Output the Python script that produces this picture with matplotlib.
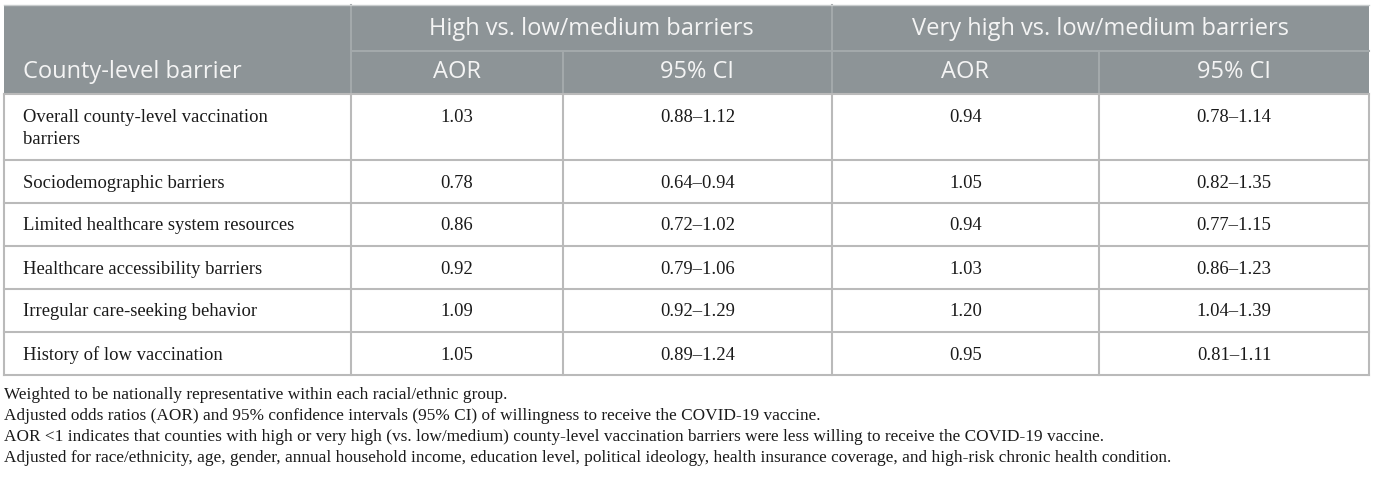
import matplotlib
matplotlib.use("Agg")
import matplotlib.pyplot as plt
from matplotlib.patches import Rectangle

# table content
groups = ["High vs. low/medium barriers", "Very high vs. low/medium barriers"]
sub_heads = ["AOR", "95% CI", "AOR", "95% CI"]
row_head = "County-level barrier"
barriers = ["Overall county-level vaccination\nbarriers",
            "Sociodemographic barriers",
            "Limited healthcare system resources",
            "Healthcare accessibility barriers",
            "Irregular care-seeking behavior",
            "History of low vaccination"]
aor_high = ["1.03", "0.78", "0.86", "0.92", "1.09", "1.05"]
ci_high = ["0.88\u20131.12", "0.64\u20130.94", "0.72\u20131.02", "0.79\u20131.06",
           "0.92\u20131.29", "0.89\u20131.24"]
aor_vhigh = ["0.94", "1.05", "0.94", "1.03", "1.20", "0.95"]
ci_vhigh = ["0.78\u20131.14", "0.82\u20131.35", "0.77\u20131.15", "0.86\u20131.23",
            "1.04\u20131.39", "0.81\u20131.11"]
notes = ["Weighted to be nationally representative within each racial/ethnic group.",
         "Adjusted odds ratios (AOR) and 95% confidence intervals (95% CI) of willingness to receive the COVID-19 vaccine.",
         "AOR <1 indicates that counties with high or very high (vs. low/medium) county-level vaccination barriers were less willing to receive the COVID-19 vaccine.",
         "Adjusted for race/ethnicity, age, gender, annual household income, education level, political ideology, health insurance coverage, and high-risk chronic health condition."]

# layout in pixels
W, H = 1375, 482
xs = [4, 351, 563, 832, 1099, 1369]
ys = [94, 160, 203, 246, 289, 332, 375]
top, mid = 5, 51

head_bg = "#8d9497"
head_line = "#a3a9ab"
grid = "#bababa"
head_fc = "#f4f4f4"
sans = "Open Sans"
serif = "Liberation Serif"
ink = "#1a1a1a"

fig = plt.figure(figsize=(W / 100, H / 100), dpi=100)
ax = fig.add_axes([0, 0, 1, 1])
ax.set_xlim(0, W)
ax.set_ylim(H, 0)
ax.axis("off")

# header
ax.add_patch(Rectangle((xs[0], top), xs[-1] - xs[0], ys[0] - top, color=head_bg, lw=0))
ax.plot([xs[1], xs[-1]], [mid, mid], color=head_line, lw=1.5)
for x in xs[1:-1]:
    y0 = top if x in (xs[1], xs[3]) else mid
    ax.plot([x, x], [y0, ys[0]], color=head_line, lw=1.5)
ax.plot([xs[0], xs[-1]], [top, top], color="#c8cccd", lw=1)

hs = 17
ax.text((xs[1] + xs[3]) / 2, (top + mid) / 2 + 1, groups[0], ha="center", va="center",
        fontsize=hs, family=sans, color=head_fc)
ax.text((xs[3] + xs[5]) / 2, (top + mid) / 2 + 1, groups[1], ha="center", va="center",
        fontsize=hs, family=sans, color=head_fc)
ax.text(xs[0] + 19, (mid + ys[0]) / 2, row_head, ha="left", va="center",
        fontsize=hs, family=sans, color=head_fc)
for i, s in enumerate(sub_heads):
    ax.text((xs[i + 1] + xs[i + 2]) / 2, (mid + ys[0]) / 2, s, ha="center", va="center",
            fontsize=hs, family=sans, color=head_fc)

# body grid
for y in ys:
    ax.plot([xs[0], xs[-1]], [y, y], color=grid, lw=1.5)
for x in xs:
    ax.plot([x, x], [ys[0], ys[-1]], color=grid, lw=1.5)

bs = 13.4
cols = [aor_high, ci_high, aor_vhigh, ci_vhigh]
for r in range(len(barriers)):
    yc = ys[r] + 23
    for k, line in enumerate(barriers[r].split("\n")):
        ax.text(xs[0] + 19, yc + 23 * k, line, ha="left", va="center",
                fontsize=bs, family=serif, color=ink)
    for c, vals in enumerate(cols):
        ax.text((xs[c + 1] + xs[c + 2]) / 2, yc, vals[r], ha="center", va="center",
                fontsize=bs, family=serif, color=ink)

# footnotes
for i, n in enumerate(notes):
    ax.text(xs[0], 399 + 21 * i, n, ha="left", va="baseline",
            fontsize=12.4, family=serif, color=ink)

fig.savefig("out.png", dpi=100)
